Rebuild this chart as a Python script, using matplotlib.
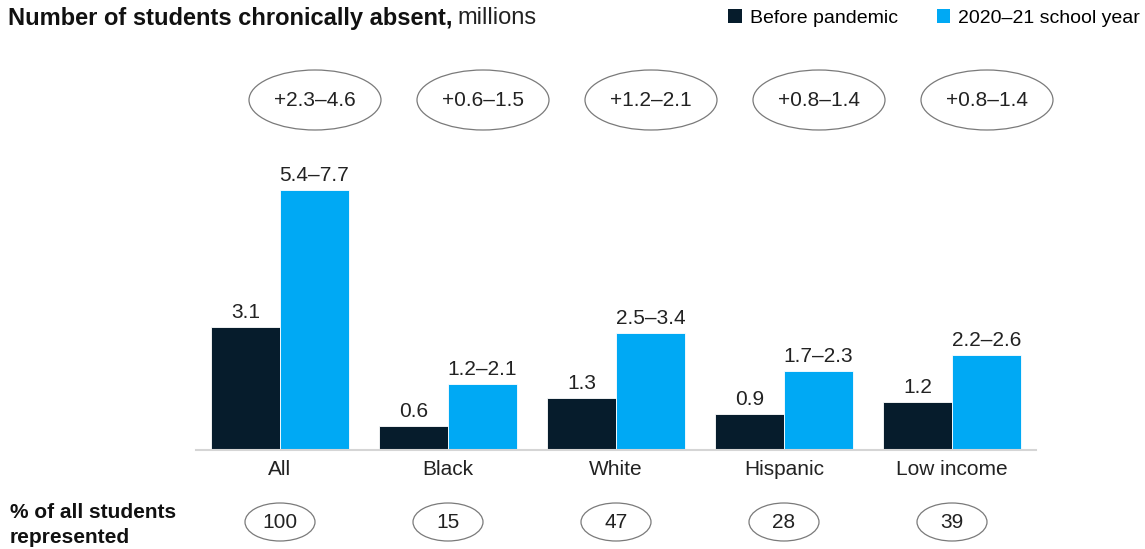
import matplotlib
matplotlib.use("Agg")
import matplotlib.pyplot as plt
from matplotlib.patches import Ellipse, Patch
import numpy as np

plt.rcParams['font.family'] = ['Liberation Sans', 'DejaVu Sans']

categories = ["All", "Black", "White", "Hispanic", "Low income"]
before = [3.1, 0.6, 1.3, 0.9, 1.2]
after_low = [5.4, 1.2, 2.5, 1.7, 2.2]
after_high = [7.7, 2.1, 3.4, 2.3, 2.6]
increase_labels = ["+2.3–4.6", "+0.6–1.5", "+1.2–2.1", "+0.8–1.4", "+0.8–1.4"]
share_pct = [100, 15, 47, 28, 39]

after_mid = [(a + b) / 2 for a, b in zip(after_low, after_high)]

DARK = "#061C2C"
BLUE = "#00A9F4"
TXT = "#222222"
FS = 15

W, H = 1145, 549
fig = plt.figure(figsize=(W / 100, H / 100), dpi=100)
left_px, right_px = 196, 1036
bottom_px, top_px = 450, 60
ax = fig.add_axes([left_px / W, 1 - bottom_px / H, (right_px - left_px) / W, (bottom_px - top_px) / H])
ppu_y = 39.7
ax.set_xlim(-0.5, 4.5)
ax.set_ylim(0, (bottom_px - top_px) / ppu_y)
ppu_x = (right_px - left_px) / 5.0

x = np.arange(len(categories))
bw = 69 / ppu_x
ax.bar(x - bw / 2, before, width=bw, color=DARK, edgecolor="white", linewidth=0.6)
ax.bar(x + bw / 2, after_mid, width=bw, color=BLUE, edgecolor="white", linewidth=0.6)

for xi, v in zip(x, before):
    ax.text(xi - bw / 2, v + 5 / ppu_y, f"{v:.1f}", ha="center", va="bottom", fontsize=FS, color=TXT)
for xi, v, lo, hi in zip(x, after_mid, after_low, after_high):
    ax.text(xi + bw / 2, v + 5 / ppu_y, f"{lo:.1f}–{hi:.1f}", ha="center", va="bottom", fontsize=FS, color=TXT)

# top ellipses
ey = (bottom_px - 100) / ppu_y
for xi, lab in zip(x, increase_labels):
    cx = xi + 35 / ppu_x
    e = Ellipse((cx, ey), width=132 / ppu_x, height=60 / ppu_y, facecolor="white",
                edgecolor="#7a7a7a", linewidth=0.9, clip_on=False)
    ax.add_patch(e)
    ax.text(cx, ey, lab, ha="center", va="center", fontsize=FS, color=TXT, clip_on=False)

# bottom ellipses
by = (bottom_px - 522) / ppu_y
for xi, p in zip(x, share_pct):
    e = Ellipse((xi, by), width=70 / ppu_x, height=38 / ppu_y, facecolor="white",
                edgecolor="#7a7a7a", linewidth=0.9, clip_on=False)
    ax.add_patch(e)
    ax.text(xi, by, str(p), ha="center", va="center", fontsize=FS, color=TXT, clip_on=False)

ax.set_xticks(x)
ax.set_xticklabels(categories, fontsize=FS, color=TXT)
ax.tick_params(axis="x", length=0, pad=7)
ax.set_yticks([])
for s in ["top", "right", "left"]:
    ax.spines[s].set_visible(False)
ax.spines["bottom"].set_color("#d5d5d5")
ax.spines["bottom"].set_linewidth(1.5)

t = fig.text(8 / W, 1 - 18 / H, "Number of students chronically absent,", fontsize=17, fontweight="bold",
             ha="left", va="center", color="#111111")
fig.canvas.draw()
bb = t.get_window_extent()
fig.text((bb.x1 + 5) / W, 1 - 18 / H, "millions", fontsize=17, ha="left", va="center", color=TXT)

fig.text(10 / W, 1 - 525 / H, "% of all students\nrepresented", fontsize=15, fontweight="bold",
         ha="left", va="center", color="#111111", linespacing=1.35)

handles = [Patch(facecolor=DARK, label="Before pandemic"), Patch(facecolor=BLUE, label="2020–21 school year")]
fig.legend(handles=handles, loc="center right", bbox_to_anchor=(1140 / W, 1 - 18 / H), ncol=2,
           frameon=False, fontsize=14, handlelength=0.7, handleheight=0.7, handletextpad=0.4,
           columnspacing=2.0, borderaxespad=0, borderpad=0)

fig.savefig("out.png", dpi=100)
